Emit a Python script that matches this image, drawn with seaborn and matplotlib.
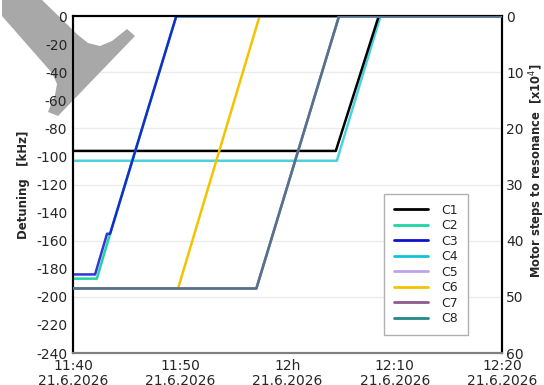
import pandas as pd
import matplotlib
import matplotlib.pyplot as plt
import seaborn as sns
from matplotlib.patches import Polygon

# Daten: Zeitpunkte (hh:mm:ss am 21.6.2026) und Verstimmung in kHz je Kanal
day = '2026-06-21 '
c1_t = ['11:40:00', '12:04:30', '12:08:30', '12:20:00']
c1_v = [-96, -96, 0, 0]
c2_t = ['11:40:00', '11:42:14', '11:43:28', '11:49:38', '12:20:00']
c2_v = [-187, -187, -155, 0, 0]
c3_t = ['11:40:00', '11:42:04', '11:43:11', '11:43:28', '11:49:38', '12:20:00']
c3_v = [-184, -184, -155, -155, 0, 0]
c4_t = ['11:40:00', '12:04:36', '12:08:40', '12:20:00']
c4_v = [-103, -103, 0, 0]
c5_t = ['11:40:00', '11:57:06', '12:04:48', '12:20:00']
c5_v = [-194, -194, 0, 0]
c6_t = ['11:40:00', '11:49:48', '11:57:24', '12:20:00']
c6_v = [-194, -194, 0, 0]
c7_t = ['11:40:00', '11:57:06', '12:04:48', '12:20:00']
c7_v = [-194, -194, 0, 0]
c8_t = ['11:40:00', '11:57:06', '12:04:48', '12:20:00']
c8_v = [-194, -194, 0, 0]

channels = ['C1', 'C2', 'C3', 'C4', 'C5', 'C6', 'C7', 'C8']
times = [c1_t, c2_t, c3_t, c4_t, c5_t, c6_t, c7_t, c8_t]
values = [c1_v, c2_v, c3_v, c4_v, c5_v, c6_v, c7_v, c8_v]
colors = ['#000000', '#1ed4a4', '#1010d0', '#10c4d4',
          '#c0a2e8', '#f2c400', '#8e5a8c', '#22888a']
# Deckkraft und Zeichenreihenfolge der Linien (ueberlagerte Kurven mischen sich)
line_alpha = [1.0, 1.0, 0.85, 0.75, 1.0, 1.0, 0.5, 1.0]
line_order = [2, 3, 5, 1, 6, 4, 8, 7]

x_ticks = ['11:40', '11:50', '12:00', '12:10', '12:20']
x_labels = ['11:40\n21.6.2026', '11:50\n21.6.2026', '12h\n21.6.2026',
            '12:10\n21.6.2026', '12:20\n21.6.2026']
y_ticks = list(range(0, -241, -20))
steps_ticks = list(range(0, 61, 10))

# Langformat fuer seaborn
rows = []
for name, ts, vs in zip(channels, times, values):
    for t, v in zip(ts, vs):
        rows.append({'channel': name, 'time': pd.Timestamp(day + t), 'detuning': v})
df = pd.DataFrame(rows)

sns.set_style('white')
plt.rcParams['font.family'] = ['DejaVu Sans']
plt.rcParams['axes.unicode_minus'] = False

fig = plt.figure(figsize=(5.44, 3.85), dpi=100)

# Wasserzeichen oben links (grau)
wm = [(2, 0), (42, 0), (78, 35), (88, 43), (100, 46), (112, 41), (127, 29),
      (135, 36), (58, 116), (48, 112), (55, 95), (57, 84), (52, 73), (2, 16)]
fig.patches.append(Polygon([(x / 544, 1 - y / 385) for x, y in wm], closed=True,
                           transform=fig.transFigure, facecolor='#a8a8a8',
                           edgecolor='none', zorder=0))

ax = fig.add_axes([0.134, 0.083, 0.789, 0.875])
ax2 = ax.twinx()
ax.set_zorder(ax2.get_zorder() + 1)
ax.patch.set_visible(False)

sns.lineplot(data=df, x='time', y='detuning', hue='channel', hue_order=channels,
             palette=dict(zip(channels, colors)), estimator=None, sort=False,
             linewidth=1.8, ax=ax, legend=False)
for line, a, z in zip(ax.lines, line_alpha, line_order):
    line.set_alpha(a)
    line.set_zorder(2 + z * 0.1)

ax.set_ylim(-240, 0)
ax.set_yticks(y_ticks)
ax.set_yticklabels([str(v) for v in y_ticks], fontsize=10)
ax.set_xlim(pd.Timestamp(day + '11:40'), pd.Timestamp(day + '12:20'))
ax.set_xticks([pd.Timestamp(day + t) for t in x_ticks])
ax.set_xticklabels(x_labels, fontsize=10, linespacing=1.1)
ax.set_xlabel('')
ax.set_ylabel('Detuning   [kHz]', fontsize=8.5, fontweight='bold', labelpad=4)
ax.tick_params(length=0, pad=4)

ax2.set_ylim(60, 0)
ax2.set_yticks(steps_ticks)
ax2.set_yticklabels([str(v) for v in steps_ticks], fontsize=10)
ax2.tick_params(length=0, pad=3)
ax2.grid(axis='y', color='#ececec', linewidth=1)
ax2.set_ylabel('Motor steps to resonance  [x10$^4$]', fontsize=8.3,
               fontweight='bold', labelpad=5)
ax2.yaxis.set_label_coords(1.058, 0.54)

for a in (ax, ax2):
    for side in ('left', 'right', 'top'):
        a.spines[side].set_color('black')
        a.spines[side].set_linewidth(1.5)
    a.spines['bottom'].set_color('#808080')
    a.spines['bottom'].set_linewidth(1.5)

handles = [plt.Line2D([], [], color=c, linewidth=2) for c in colors]
leg = ax.legend(handles, channels, loc='lower left', bbox_to_anchor=(0.725, 0.053),
                fontsize=9, frameon=True, fancybox=False, framealpha=1,
                handlelength=2.7, labelspacing=0.2, borderpad=0.8,
                handletextpad=1.1, borderaxespad=0)
leg.get_frame().set_edgecolor('#b0b0b0')

fig.savefig('out.png', dpi=100)
